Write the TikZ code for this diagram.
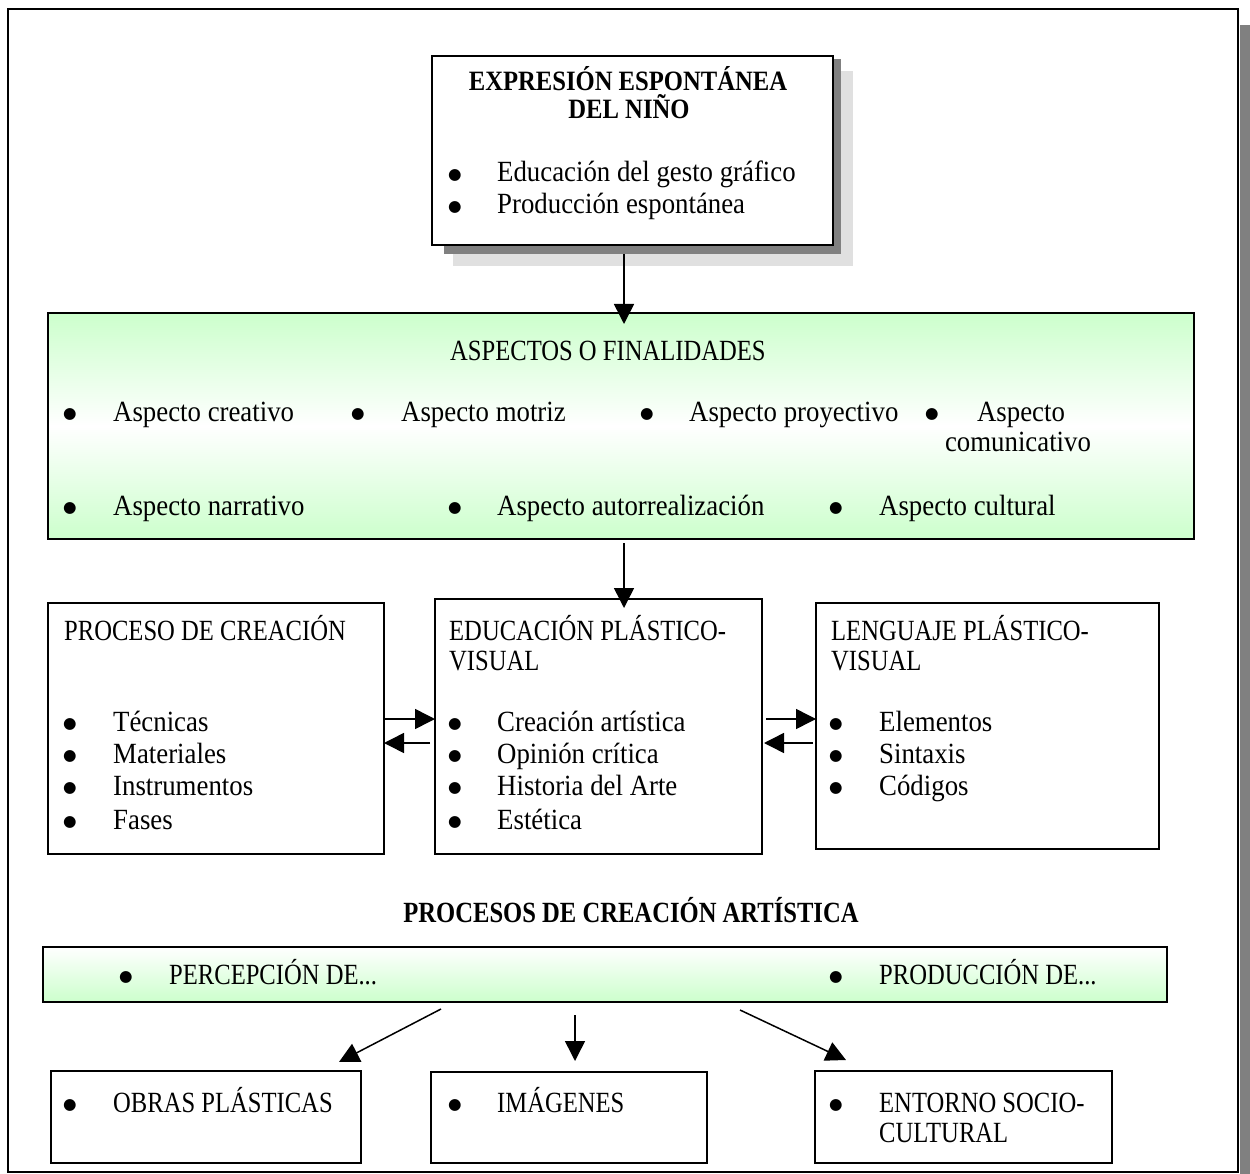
\documentclass[tikz,border=0pt]{standalone}
\usepackage{fontspec}
\setmainfont{Liberation Serif}[FakeStretch=0.915]
\newfontfamily\capsf{Liberation Serif}[FakeStretch=0.84]
\newfontfamily\bcapsf{Liberation Serif}[FakeStretch=0.88]
\newfontfamily\bulfont{DejaVu Sans}
\usetikzlibrary{arrows.meta}
\definecolor{lgreen}{RGB}{204,255,204}
\definecolor{shdark}{RGB}{128,128,128}
\definecolor{shlight}{RGB}{224,224,224}
\begin{document}
\begin{tikzpicture}[x=1pt,y=-1pt,
  box/.style={draw=black, line width=1.6pt, fill=white, anchor=north west, inner sep=0pt, outer sep=0pt},
  gbox/.style={draw=black, line width=1.6pt, anchor=north west, inner sep=0pt, outer sep=0pt,
     top color=lgreen, bottom color=lgreen, middle color=white},
  txt/.style={anchor=base west, inner sep=0pt, font=\fontsize{29.3}{32}\selectfont},
  capt/.style={anchor=base west, inner sep=0pt, font=\fontsize{29.3}{32}\selectfont\capsf},
  bcapt/.style={anchor=base, inner sep=0pt, font=\fontsize{28}{30}\selectfont\bcapsf\bfseries},
  bul/.style={anchor=base, inner sep=0pt, yshift=2.5pt, font=\fontsize{15.5}{15.5}\selectfont\bulfont},
  arr/.style={line width=1.5pt, -{Triangle[length=20pt,width=20pt]}},
]
\useasboundingbox (0,0) rectangle (1250,1174);
% outer frame with shadow
\fill[shdark] (1240,25) rectangle (1250,1174);
\node[box, line width=2pt, minimum width=1230pt, minimum height=1163pt] (frame) at (8,9) {};

% top box with shadows
\fill[shlight] (453,71) rectangle (853,266);
\node[anchor=north west, fill=shdark, inner sep=0pt, minimum width=397pt, minimum height=195pt] (sh) at (444,59) {};
\node[box, minimum width=401pt, minimum height=189pt] (top) at (432,56) {};
\node[bcapt] (tt1) at (628,91) {EXPRESIÓN ESPONTÁNEA};
\node[bcapt] (tt2) at (629,119) {DEL NIÑO};
\node[bul] (b1) at (455,182) {●};
\node[txt] (t1) at (497,182) {Educación del gesto gráfico};
\node[bul] (b2) at (455,214) {●};
\node[txt] (t2) at (497,214) {Producción espontánea};

% green box
\node[gbox, minimum width=1146pt, minimum height=226pt] (green) at (48,313) {};
\node[capt] (gt) at (450,360) {ASPECTOS O FINALIDADES};
\node[bul] (gb1) at (70,421) {●};
\node[txt] (g1) at (113,421) {Aspecto creativo};
\node[bul] (gb2) at (358,421) {●};
\node[txt] (g2) at (401,421) {Aspecto motriz};
\node[bul] (gb3) at (647,421) {●};
\node[txt] (g3) at (689,421) {Aspecto proyectivo};
\node[bul] (gb4) at (932,421) {●};
\node[txt, anchor=base] (g4a) at (1021,421) {Aspecto};
\node[txt, anchor=base] (g4b) at (1018,451) {comunicativo};
\node[bul] (gb5) at (70,515) {●};
\node[txt] (g5) at (113,515) {Aspecto narrativo};
\node[bul] (gb6) at (455,515) {●};
\node[txt] (g6) at (497,515) {Aspecto autorrealización};
\node[bul] (gb7) at (836,515) {●};
\node[txt] (g7) at (879,515) {Aspecto cultural};

% middle row boxes
\node[box, minimum width=336pt, minimum height=251pt] (left) at (48,603) {};
\node[box, minimum width=327pt, minimum height=255pt] (mid) at (435,599) {};
\node[box, minimum width=343pt, minimum height=246pt] (right) at (816,603) {};

\node[capt] (l0) at (64,640) {PROCESO DE CREACIÓN};
\node[bul] (lb1) at (70,731) {●}; \node[txt] (l1) at (113,731) {Técnicas};
\node[bul] (lb2) at (70,763) {●}; \node[txt] (l2) at (113,763) {Materiales};
\node[bul] (lb3) at (70,795) {●}; \node[txt] (l3) at (113,795) {Instrumentos};
\node[bul] (lb4) at (70,829) {●}; \node[txt] (l4) at (113,829) {Fases};

\node[capt] (m0) at (449,640) {EDUCACIÓN PLÁSTICO-};
\node[capt] (m0b) at (449,670) {VISUAL};
\node[bul] (mb1) at (455,731) {●}; \node[txt] (m1) at (497,731) {Creación artística};
\node[bul] (mb2) at (455,763) {●}; \node[txt] (m2) at (497,763) {Opinión crítica};
\node[bul] (mb3) at (455,795) {●}; \node[txt] (m3) at (497,795) {Historia del Arte};
\node[bul] (mb4) at (455,829) {●}; \node[txt] (m4) at (497,829) {Estética};

\node[capt] (r0) at (831,640) {LENGUAJE PLÁSTICO-};
\node[capt] (r0b) at (831,670) {VISUAL};
\node[bul] (rb1) at (836,731) {●}; \node[txt] (r1) at (879,731) {Elementos};
\node[bul] (rb2) at (836,763) {●}; \node[txt] (r2) at (879,763) {Sintaxis};
\node[bul] (rb3) at (836,795) {●}; \node[txt] (r3) at (879,795) {Códigos};

% section title and bar
\node[bcapt, font=\fontsize{29.3}{32}\selectfont\capsf\bfseries] (pt) at (631,922) {PROCESOS DE CREACIÓN ARTÍSTICA};
\node[box, fill=none, top color=white, bottom color=lgreen, minimum width=1124pt, minimum height=55pt] (bar) at (43,947) {};
\node[bul] (pb1) at (126,984) {●}; \node[capt] (p1) at (169,984) {PERCEPCIÓN DE...};
\node[bul] (pb2) at (836,984) {●}; \node[capt] (p2) at (879,984) {PRODUCCIÓN DE...};

% bottom boxes
\node[box, minimum width=310pt, minimum height=92pt] (o1) at (51,1071) {};
\node[box, minimum width=276pt, minimum height=91pt] (o2) at (431,1072) {};
\node[box, minimum width=297pt, minimum height=92pt] (o3) at (815,1071) {};
\node[bul] (ob1) at (70,1112) {●}; \node[capt] (o1t) at (113,1112) {OBRAS PLÁSTICAS};
\node[bul] (ob2) at (455,1112) {●}; \node[capt] (o2t) at (497,1112) {IMÁGENES};
\node[bul] (ob3) at (836,1112) {●}; \node[capt] (o3t) at (879,1112) {ENTORNO SOCIO-};
\node[capt] (o3u) at (879,1142) {CULTURAL};

% connectors
\coordinate (ax) at (624,0);
\draw[arr] (sh.south -| ax) -- ([yshift=-11pt]green.north -| ax);
\draw[arr, shorten <=4pt] (green.south -| ax) -- ([yshift=-9pt]mid.north -| ax);

\coordinate (ya) at (0,719);
\coordinate (yb) at (0,743);
\draw[arr] (left.east |- ya) -- (mid.west |- ya);
\draw[arr, shorten <=5pt] (mid.west |- yb) -- (left.east |- yb);
\draw[arr, shorten <=4pt] (mid.east |- ya) -- (right.west |- ya);
\draw[arr, shorten <=3pt, shorten >=2pt] (right.west |- yb) -- (mid.east |- yb);

\coordinate (s1) at (441,1009);
\coordinate (e1) at (339,1062);
\coordinate (s2) at (575,1015);
\coordinate (e2) at (575,1061);
\coordinate (s3) at (740,1010);
\coordinate (e3) at (846,1060);
\draw[arr] (s1) -- (e1);
\draw[arr] (s2) -- (e2);
\draw[arr] (s3) -- (e3);
\end{tikzpicture}
\end{document}
